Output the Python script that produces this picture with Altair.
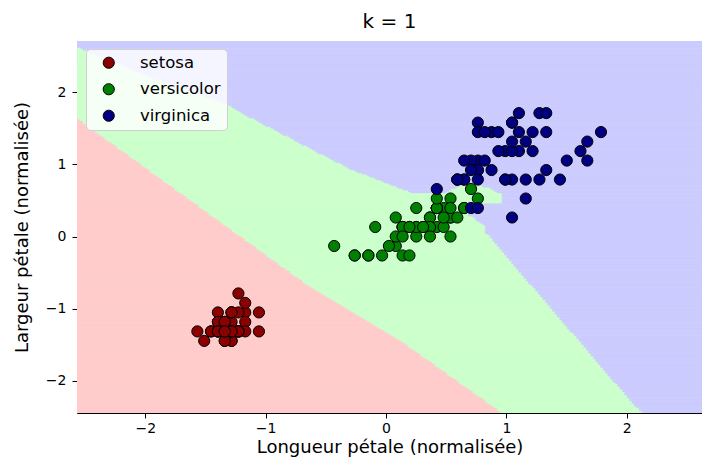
import numpy as np
import pandas as pd
import altair as alt

classes = ["setosa", "versicolor", "virginica"]

setosa_length = [1.4, 1.4, 1.3, 1.5, 1.4, 1.7, 1.4, 1.5, 1.4, 1.5, 1.5, 1.6, 1.4, 1.1, 1.2, 1.5, 1.3, 1.4, 1.7, 1.5,
                 1.7, 1.5, 1.0, 1.7, 1.9, 1.6, 1.6, 1.5, 1.4, 1.6, 1.6, 1.5, 1.5, 1.4, 1.5, 1.2, 1.3, 1.4, 1.3, 1.5,
                 1.3, 1.3, 1.3, 1.6, 1.9, 1.4, 1.6, 1.4, 1.5, 1.4]
setosa_width = [0.2, 0.2, 0.2, 0.2, 0.2, 0.4, 0.3, 0.2, 0.2, 0.1, 0.2, 0.2, 0.1, 0.1, 0.2, 0.4, 0.4, 0.3, 0.3, 0.3,
                0.2, 0.4, 0.2, 0.5, 0.2, 0.2, 0.4, 0.2, 0.2, 0.2, 0.2, 0.4, 0.1, 0.2, 0.2, 0.2, 0.2, 0.1, 0.2, 0.2,
                0.3, 0.3, 0.2, 0.6, 0.4, 0.3, 0.2, 0.2, 0.2, 0.2]
versicolor_length = [4.7, 4.5, 4.9, 4.0, 4.6, 4.5, 4.7, 3.3, 4.6, 3.9, 3.5, 4.2, 4.0, 4.7, 3.6, 4.4, 4.5, 4.1, 4.5, 3.9,
                     4.8, 4.0, 4.9, 4.7, 4.3, 4.4, 4.8, 5.0, 4.5, 3.5, 3.8, 3.7, 3.9, 5.1, 4.5, 4.5, 4.7, 4.4, 4.1, 4.0,
                     4.4, 4.6, 4.0, 3.3, 4.2, 4.2, 4.2, 4.3, 3.0, 4.1]
versicolor_width = [1.4, 1.5, 1.5, 1.3, 1.5, 1.3, 1.6, 1.0, 1.3, 1.4, 1.0, 1.5, 1.0, 1.4, 1.3, 1.4, 1.5, 1.0, 1.5, 1.1,
                    1.8, 1.3, 1.5, 1.2, 1.3, 1.4, 1.4, 1.7, 1.5, 1.0, 1.1, 1.0, 1.2, 1.6, 1.5, 1.6, 1.5, 1.3, 1.3, 1.3,
                    1.2, 1.4, 1.2, 1.0, 1.3, 1.2, 1.3, 1.3, 1.1, 1.3]
virginica_length = [6.0, 5.1, 5.9, 5.6, 5.8, 6.6, 4.5, 6.3, 5.8, 6.1, 5.1, 5.3, 5.5, 5.0, 5.1, 5.3, 5.5, 6.7, 6.9, 5.0,
                    5.7, 4.9, 6.7, 4.9, 5.7, 6.0, 4.8, 4.9, 5.6, 5.8, 6.1, 6.4, 5.6, 5.1, 5.6, 6.1, 5.6, 5.5, 4.8, 5.4,
                    5.6, 5.1, 5.1, 5.9, 5.7, 5.2, 5.0, 5.2, 5.4, 5.1]
virginica_width = [2.5, 1.9, 2.1, 1.8, 2.2, 2.1, 1.7, 1.8, 1.8, 2.5, 2.0, 1.9, 2.1, 2.0, 2.4, 2.3, 1.8, 2.2, 2.3, 1.5,
                   2.3, 2.0, 2.0, 1.8, 2.1, 1.8, 1.8, 1.8, 2.1, 1.6, 1.9, 2.0, 2.2, 1.5, 1.4, 2.3, 2.4, 1.8, 1.8, 2.1,
                   2.4, 2.3, 1.9, 2.3, 2.5, 2.3, 1.9, 2.0, 2.3, 1.8]

region_colors = ["#FFCCCC", "#CCFFCC", "#CCCCFF"]
point_colors = ["#8B0000", "#008000", "#000080"]
x_ticks = [-2, -1, 0, 1, 2]
y_ticks = [-2, -1, 0, 1, 2]
x_view_right = 2.625  # the picture is cut on the right

# ---- standardise (as in the original) ----
lengths = np.array(setosa_length + versicolor_length + virginica_length)
widths = np.array(setosa_width + versicolor_width + virginica_width)
labels = np.repeat([0, 1, 2], [len(setosa_length), len(versicolor_length), len(virginica_length)])
X = np.column_stack([(lengths - lengths.mean()) / lengths.std(),
                     (widths - widths.mean()) / widths.std()])

points = pd.DataFrame({"x": X[:, 0], "y": X[:, 1], "cls": [classes[i] for i in labels]})

# ---- 1-NN decision regions on a mesh, merged into runs per row ----
h = 0.02
x_min, x_max = X[:, 0].min() - 1, X[:, 0].max() + 1
y_min, y_max = X[:, 1].min() - 1, X[:, 1].max() + 1
xx = np.arange(x_min, x_max, h)
yy = np.arange(y_min, y_max, h)
Xr = X[::-1]
labels_r = labels[::-1]
rows = []
for yv in yy:
    d = (xx[:, None] - Xr[None, :, 0]) ** 2 + (yv - Xr[None, :, 1]) ** 2
    lab = labels_r[np.argmin(d, axis=1)]
    start = 0
    n = len(xx)
    for i in range(1, n + 1):
        if i == n or lab[i] != lab[start]:
            rows.append({"x": xx[start] - h / 2, "x2": xx[i - 1] + h / 2 + 0.008,
                         "y": yv - h / 2, "y2": yv + h / 2 + 0.01, "cls": classes[lab[start]]})
            start = i
regions = pd.DataFrame(rows)

xscale = alt.Scale(domain=[x_min, x_view_right], nice=False, zero=False)
yscale = alt.Scale(domain=[y_min, y_max], nice=False, zero=False)
xaxis = alt.Axis(values=x_ticks, format="d", title="Longueur pétale (normalisée)", titlePadding=3,
                 domain=True, labelPadding=3)
xaxis_top = alt.Axis(orient="top", values=x_ticks, labels=False, ticks=False, title=None, domain=True)
yaxis = alt.Axis(values=y_ticks, format="d", title="Largeur pétale (normalisée)", titlePadding=14,
                 domain=True, labelPadding=6)

region_scale = alt.Scale(domain=classes, range=region_colors)
bg = alt.Chart(regions).mark_rect(clip=True, strokeWidth=0.4).encode(
    x=alt.X("x:Q", scale=xscale, axis=xaxis),
    x2="x2:Q",
    y=alt.Y("y:Q", scale=yscale, axis=yaxis),
    y2="y2:Q",
    color=alt.Color("cls:N", scale=region_scale, legend=None),
    stroke=alt.Stroke("cls:N", scale=region_scale, legend=None),
)

pts = alt.Chart(points).mark_circle(size=125, stroke="black", strokeWidth=1, opacity=1).encode(
    x=alt.X("x:Q", scale=xscale, axis=xaxis_top),
    y=alt.Y("y:Q", scale=yscale, axis=yaxis),
    color=alt.Color(
        "cls:N",
        scale=alt.Scale(domain=classes, range=point_colors),
        legend=alt.Legend(
            title=None, orient="none", legendX=9, legendY=8,
            fillColor="rgba(255,255,255,0.8)", strokeColor="#d0d0d0", cornerRadius=4,
            padding=5.5, rowPadding=9.5, symbolType="circle", symbolSize=125,
            symbolStrokeColor="black", symbolStrokeWidth=1, symbolOpacity=1,
            symbolOffset=9, labelOffset=23,
            labelFont="DejaVu Sans", labelFontSize=16.5, labelColor="black",
        ),
    ),
)

chart = alt.layer(bg, pts).resolve_scale(color="independent", stroke="independent").resolve_axis(
    x="independent"
).properties(
    width=625, height=372,
    title=alt.TitleParams("k = 1", font="DejaVu Sans", fontSize=20, fontWeight="normal",
                          color="black", anchor="middle", offset=9),
    autosize=alt.AutoSizeParams(type="none"),
    padding={"left": 69, "top": 33, "right": 0, "bottom": 44},
).configure_view(stroke=None).configure_axis(
    domain=False, domainColor="black", domainWidth=1, grid=False, tickColor="black", tickSize=5, tickWidth=1,
    labelFont="DejaVu Sans", labelFontSize=14, labelColor="black",
    titleFont="DejaVu Sans", titleFontSize=18, titleFontWeight="normal", titleColor="black",
)

chart.save("out.html", embed_options={"renderer": "svg", "actions": False})
